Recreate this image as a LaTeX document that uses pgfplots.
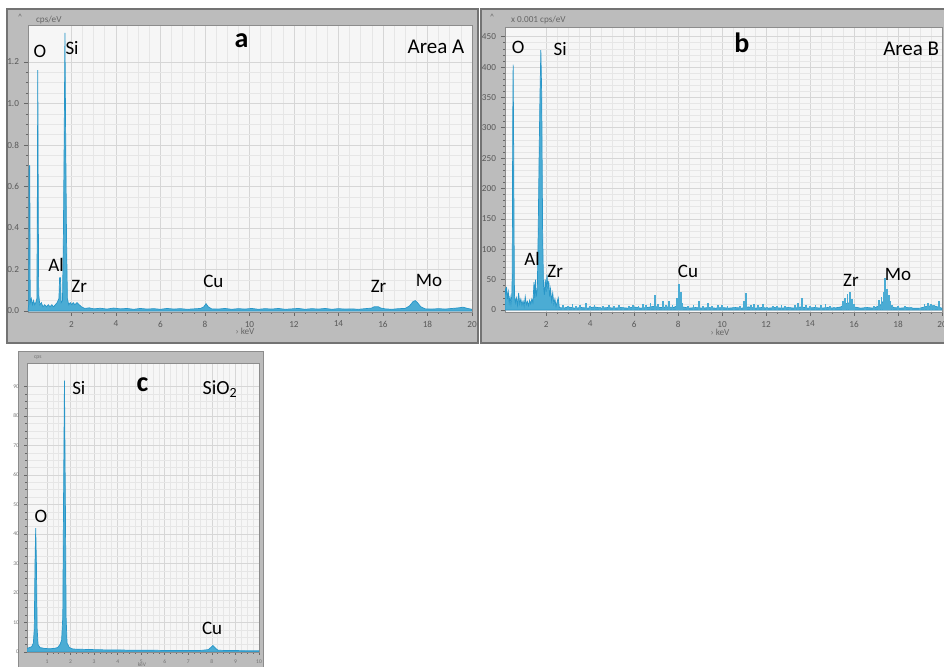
\documentclass[border=0pt]{standalone}
\usepackage{fontspec}
\setmainfont{Carlito}
\usepackage{pgfplots}
\pgfplotsset{compat=1.18}

\definecolor{spec}{RGB}{75,172,212}
\definecolor{specdark}{RGB}{40,150,200}
\definecolor{frameg}{RGB}{188,188,188}
\definecolor{plotbg}{RGB}{246,246,246}
\definecolor{gridmaj}{RGB}{214,214,214}
\definecolor{gridmin}{RGB}{230,230,230}

\tikzset{
  lbl/.style={font=\fontsize{9.5}{10}\selectfont, text=black, inner sep=0pt},
  big/.style={font=\fontsize{14}{15}\selectfont\bfseries, text=black, inner sep=0pt},
  spectrum/.style={fill=spec, draw=specdark, line width=0.35pt},
}
\pgfplotsset{
  eds/.style={
    scale only axis,
    axis background/.style={fill=plotbg},
    axis line style={draw=black!45, line width=0.4pt},
    grid=both,
    major grid style={draw=gridmaj, line width=0.35pt},
    minor grid style={draw=gridmin, line width=0.3pt},
    tick style={draw=black!60, line width=0.3pt},
    tick align=outside,
    major tick length=2pt,
    minor tick length=1pt,
    xtick pos=bottom, ytick pos=left,
    tick label style={font=\fontsize{4.6}{5}\selectfont, text=black!65},
    /pgf/number format/assume math mode=true,
    xticklabel style={yshift=1pt},
    yticklabel style={xshift=1pt},
  },
}

\begin{document}
\begin{tikzpicture}[x=1pt,y=1pt]
\useasboundingbox (0,0) rectangle (472,333.5);
\fill[white] (0,0) rectangle (472,333.5);
% instrument window frames
\filldraw[fill=frameg, draw=black!55, line width=0.6pt] (3.5,162) rectangle (239,329);
\filldraw[fill=frameg, draw=black!55, line width=0.6pt] (240.5,162) rectangle (474,329);
\filldraw[fill=frameg, draw=black!45, line width=0.5pt] (9,-2) rectangle (131.5,157.5);

% ---------------- panel a ----------------
\begin{axis}[eds, name=pa, at={(14pt,177.5pt)}, anchor=south west,
  width=222pt, height=143.5pt,
  xmin=0.05, xmax=20, ymin=-0.005, ymax=1.378,
  xtick={2,4,6,8,10,12,14,16,18,20},
  ytick={0,0.2,0.4,0.6,0.8,1.0,1.2},
  minor x tick num=3, minor y tick num=3,
  yticklabel style={/pgf/number format/.cd, fixed, fixed zerofill, precision=1}]
\addplot[spectrum] coordinates {
(0.05,0)(0.08,0.03)(0.10,0.70)(0.13,0.70)(0.15,0.04)(0.20,0.06)(0.25,0.03)(0.30,0.05)(0.35,0.03)(0.40,0.04)(0.45,0.06)(0.47,0.54)(0.49,1.16)(0.51,0.54)(0.53,0.08)(0.58,0.03)(0.65,0.04)(0.72,0.02)(0.80,0.03)(0.88,0.02)(0.96,0.03)(1.04,0.02)(1.12,0.03)(1.20,0.02)(1.28,0.03)(1.36,0.04)(1.44,0.06)(1.47,0.16)(1.51,0.16)(1.54,0.04)(1.60,0.05)(1.64,0.36)(1.68,0.88)(1.71,1.34)(1.74,0.88)(1.78,0.36)(1.82,0.06)(1.88,0.03)(1.95,0.04)(2.02,0.03)(2.08,0.04)(2.15,0.03)(2.25,0.04)(2.35,0.03)(2.45,0.02)(2.6,0.012)(2.8,0.015)(3.0,0.01)(3.3,0.013)(3.6,0.009)(3.9,0.014)(4.2,0.01)(4.5,0.012)(4.8,0.008)(5.1,0.012)(5.4,0.009)(5.7,0.011)(6.0,0.008)(6.3,0.012)(6.6,0.009)(6.9,0.011)(7.2,0.008)(7.5,0.01)(7.8,0.012)(7.95,0.02)(8.05,0.035)(8.15,0.02)(8.3,0.01)(8.6,0.009)(8.9,0.012)(9.2,0.008)(9.5,0.011)(9.8,0.009)(10.1,0.012)(10.4,0.008)(10.7,0.011)(11.0,0.009)(11.3,0.012)(11.6,0.008)(11.9,0.01)(12.2,0.012)(12.5,0.008)(12.8,0.011)(13.1,0.009)(13.4,0.012)(13.7,0.008)(14.0,0.011)(14.3,0.009)(14.6,0.01)(14.9,0.008)(15.2,0.011)(15.5,0.014)(15.6,0.02)(15.8,0.02)(15.9,0.014)(16.1,0.01)(16.4,0.008)(16.7,0.011)(17.0,0.012)(17.2,0.025)(17.35,0.045)(17.45,0.05)(17.55,0.04)(17.7,0.02)(17.9,0.01)(18.2,0.009)(18.5,0.011)(18.8,0.009)(19.1,0.012)(19.4,0.015)(19.6,0.018)(19.8,0.012)(20,0.008)
} \closedcycle;
\node[lbl] at (axis cs:0.59,1.253) {O};
\node[lbl] at (axis cs:2.03,1.267) {Si};
\node[big] at (axis cs:9.64,1.30) {a};
\node[lbl, font=\fontsize{10.5}{11}\selectfont] at (axis cs:18.38,1.272) {Area A};
\node[lbl] at (axis cs:1.31,0.222) {Al};
\node[lbl] at (axis cs:2.35,0.116) {Zr};
\node[lbl] at (axis cs:8.38,0.14) {Cu};
\node[lbl] at (axis cs:15.8,0.12) {Zr};
\node[lbl] at (axis cs:18.07,0.145) {Mo};
\end{axis}
\node[font=\fontsize{4.6}{5}\selectfont, text=black!60] at ([xshift=-2.5pt, yshift=-9.5pt]pa.south) {› keV};
\node[font=\fontsize{4.6}{5}\selectfont, text=black!60, anchor=west] at (14.5,323.5) {cps/eV};
\node[font=\fontsize{4}{5}\selectfont, text=black!60] at (10,325) {\textasciicircum};

% ---------------- panel b ----------------
\begin{axis}[eds, name=pb, at={(252.5pt,177.5pt)}, anchor=south west,
  width=218.5pt, height=142.5pt,
  xmin=0.13, xmax=20, ymin=-3.3, ymax=466,
  xtick={2,4,6,8,10,12,14,16,18,20},
  ytick={0,50,100,150,200,250,300,350,400,450},
  minor x tick num=3, minor y tick num=4]
\addplot[spectrum] coordinates {
(0.13,0)(0.13,36)(0.17,28)(0.20,38)(0.24,18)(0.28,30)(0.32,12)(0.36,22)(0.40,10)(0.44,25)(0.46,60)(0.48,300)(0.50,404)(0.52,300)(0.54,140)(0.56,25)(0.60,12)(0.65,20)(0.70,8)(0.75,28)(0.80,10)(0.85,18)(0.90,8)(0.95,15)(1.00,6)(1.05,22)(1.10,9)(1.15,14)(1.20,7)(1.25,16)(1.30,10)(1.35,18)(1.40,12)(1.45,46)(1.48,20)(1.52,50)(1.55,22)(1.60,35)(1.64,130)(1.68,250)(1.72,354)(1.76,428)(1.80,354)(1.84,130)(1.88,40)(1.92,25)(1.96,50)(2.00,30)(2.04,58)(2.08,35)(2.12,48)(2.16,22)(2.20,35)(2.25,15)(2.30,28)(2.35,10)(2.40,18)(2.45,6)(2.55,20)(2.6,4)(2.8,3)(3.0,5)(3.3,3)(3.6,4)(3.9,3)(4.2,5)(4.5,3)(4.8,4)(5.1,3)(5.4,4)(5.7,3)(6.0,5)(6.3,3)(6.6,4)(6.9,6)(7.2,4)(7.5,5)(7.8,4)(8.0,8)(8.1,10)(8.2,5)(8.5,3)(8.8,4)(9.1,3)(9.4,4)(9.7,3)(10.0,4)(10.3,3)(10.6,4)(10.9,3)(11.2,5)(11.5,3)(11.8,4)(12.1,3)(12.4,4)(12.7,3)(13.0,4)(13.3,3)(13.6,5)(13.9,3)(14.2,4)(14.5,3)(14.8,4)(15.1,3)(15.4,5)(15.6,10)(15.8,12)(16.0,5)(16.3,3)(16.6,4)(16.9,3)(17.2,8)(17.4,18)(17.6,10)(17.8,4)(18.1,3)(18.4,4)(18.7,3)(19.0,3)(19.3,6)(19.6,7)(19.9,4)(20,3)
} \closedcycle;
\addplot[ycomb, draw=spec, line width=0.9pt, mark=none] coordinates {
(2.75,8)(3.0,6)(3.2,10)(3.35,7)(3.55,9)(3.8,12)(4.0,6)(4.2,8)(4.45,5)(4.6,7)(4.85,9)(5.1,6)(5.3,8)(5.5,5)(5.75,7)(5.95,9)(6.2,6)(6.4,10)(6.55,8)(6.75,12)(6.95,25)(7.1,10)(7.3,14)(7.45,9)(7.6,15)(7.75,8)(7.95,20)(8.05,42)(8.12,30)(8.2,12)(8.45,6)(8.7,9)(8.95,15)(9.15,7)(9.35,12)(9.55,6)(9.8,9)(10.0,8)(10.25,6)(10.55,5)(10.8,7)(11.0,14)(11.1,28)(11.3,9)(11.45,10)(11.65,8)(11.85,10)(12.05,5)(12.3,7)(12.5,6)(12.7,9)(12.85,7)(13.1,5)(13.3,9)(13.45,12)(13.65,20)(13.8,8)(14.0,6)(14.25,9)(14.5,8)(14.7,10)(14.9,6)(15.1,5)(15.5,14)(15.6,20)(15.7,27)(15.8,29)(15.9,18)(16.0,10)(16.5,5)(16.9,6)(17.15,16)(17.25,22)(17.35,30)(17.42,53)(17.5,35)(17.58,25)(17.65,15)(17.75,9)(18.0,6)(18.3,7)(18.6,5)(19.0,4)(19.2,10)(19.35,12)(19.5,10)(19.65,8)(19.85,14)
};
\node[lbl] at (axis cs:0.73,432) {O};
\node[lbl] at (axis cs:2.64,430) {Si};
\node[big] at (axis cs:10.9,440) {b};
\node[lbl, font=\fontsize{10.5}{11}\selectfont] at (axis cs:18.6,430) {Area B};
\node[lbl] at (axis cs:1.36,84) {Al};
\node[lbl] at (axis cs:2.41,64) {Zr};
\node[lbl] at (axis cs:8.45,64) {Cu};
\node[lbl] at (axis cs:15.86,48) {Zr};
\node[lbl] at (axis cs:18.0,59) {Mo};
\end{axis}
\node[font=\fontsize{4.6}{5}\selectfont, text=black!60] at (360,167.5) {› keV};
\node[font=\fontsize{4.6}{5}\selectfont, text=black!60, anchor=west] at (252,323.5) {x 0.001 cps/eV};
\node[font=\fontsize{4}{5}\selectfont, text=black!60] at (246,325) {\textasciicircum};

% ---------------- panel c ----------------
\begin{axis}[eds, name=pc, at={(13.5pt,7.5pt)}, anchor=south west,
  width=116pt, height=144.5pt,
  xmin=0.15, xmax=10, ymin=0, ymax=98,
  xtick={1,2,3,4,5,6,7,8,9,10},
  ytick={0,10,20,30,40,50,60,70,80,90},
  minor x tick num=3, minor y tick num=3,
  tick label style={font=\fontsize{2.8}{3}\selectfont, text=black!55},
  major tick length=1.5pt, minor tick length=0.8pt]
\addplot[spectrum] coordinates {
(0.15,0)(0.15,1.2)(0.25,1.5)(0.35,1.8)(0.42,3)(0.46,8)(0.49,30)(0.52,42)(0.55,30)(0.58,8)(0.62,2.5)(0.7,1.5)(0.9,1.2)(1.1,1.1)(1.3,1.2)(1.45,1.5)(1.55,2.5)(1.62,4)(1.67,12)(1.70,50)(1.74,92)(1.78,50)(1.81,12)(1.85,3)(1.95,1.5)(2.1,1)(2.5,0.9)(3,0.8)(3.5,0.7)(4,0.7)(4.5,0.6)(5,0.6)(5.5,0.6)(6,0.5)(6.5,0.5)(7,0.5)(7.5,0.5)(7.85,0.8)(7.95,1.5)(8.04,2.2)(8.13,1.5)(8.25,0.6)(8.6,0.5)(9,0.5)(9.5,0.4)(10,0.4)
} \closedcycle;
\node[lbl] at (axis cs:2.35,89.5) {Si};
\node[big] at (axis cs:5.05,90.8) {c};
\node[lbl, font=\fontsize{10}{11}\selectfont] at (axis cs:8.35,89.2) {SiO\textsubscript{2}};
\node[lbl] at (axis cs:0.74,46) {O};
\node[lbl] at (axis cs:8.01,8.1) {Cu};
\end{axis}
\node[font=\fontsize{2.8}{3}\selectfont, text=black!55, anchor=west] at (13.5,154.5) {cps};
\node[font=\fontsize{2.8}{3}\selectfont, text=black!55] at (71,1.2) {keV};
\end{tikzpicture}
\end{document}
